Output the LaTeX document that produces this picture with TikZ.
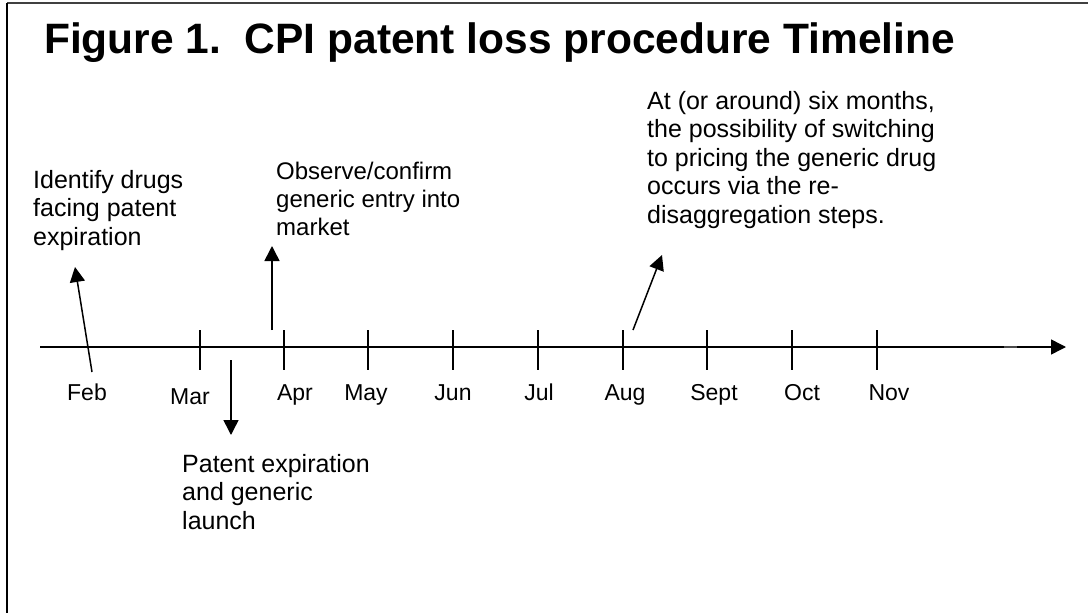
\documentclass[tikz,border=0pt]{standalone}
\usepackage{fontspec}
\setmainfont{Liberation Sans}
\usetikzlibrary{arrows.meta}
\begin{document}
\begin{tikzpicture}[x=1pt,y=-1pt,
  rule/.style={line width=1.5pt},
  pointer/.style={line width=1.5pt,-{Triangle[width=15pt,length=15pt]}},
  note/.style={font=\fontsize{25}{28.5}\selectfont, align=left, inner sep=0pt, anchor=north west},
  month/.style={font=\fontsize{23}{27}\selectfont, inner sep=0pt, anchor=base}]
\useasboundingbox (0,0) rectangle (1088,613);

% frame: top and left edges
\draw[line width=2pt, black!75] (7,3) -- (1088,3);
\draw[line width=1.5pt] (7,3) -- (7,613);

% title
\node[font=\fontsize{42.5}{48}\selectfont\bfseries, anchor=base west, inner sep=0pt] (title)
  at (44,53) {Figure 1.\ \ CPI patent loss procedure Timeline};

% time axis
\coordinate (axisstart) at (40,347);
\coordinate (axisend) at (1066,347);
\draw[pointer] (axisstart) -- (axisend);
\draw[line width=2.6pt, black!70] (1004,347) -- (1017,347);

% month ticks
\foreach \n/\x in {mar/200, apr/284, may/368, jun/453, jul/538, aug/623, sep/707, oct/792, nov/877} {
  \coordinate (t\n) at (\x,347);
  \draw[rule] (t\n) ++(0,-17) -- ++(0,40);
}

% month labels
\node[month] (lfeb) at (87,400) {Feb};
\node[month] (lmar) at (190,404) {Mar};
\node[month] (lapr) at (295,400) {Apr};
\node[month] (lmay) at (366,400) {May};
\node[month] (ljun) at (453,400) {Jun};
\node[month] (ljul) at (539,400) {Jul};
\node[month] (laug) at (625,400) {Aug};
\node[month] (lsep) at (714,400) {Sept};
\node[month] (loct) at (802,400) {Oct};
\node[month] (lnov) at (889,400) {Nov};

% annotations
\node[note] (identify) at (33,170) {Identify drugs\\facing patent\\expiration};
\node[note, font=\fontsize{24}{28}\selectfont] (observe) at (276,162) {Observe/confirm\\generic entry into\\market};
\node[note] (switching) at (647,91) {At (or around) six months,\\the possibility of switching\\to pricing the generic drug\\occurs via the re-\\disaggregation steps.};
\node[note] (expiry) at (182,454) {Patent expiration\\and generic\\launch};

% pointers from the axis to the annotations
\coordinate (p1s) at (92,372);  \coordinate (p1e) at (75,267);
\coordinate (p2s) at (231,360); \coordinate (p2e) at (231,435);
\coordinate (p3s) at (272,330); \coordinate (p3e) at (272,246);
\coordinate (p4s) at (633,330); \coordinate (p4e) at (662,255);
\draw[pointer] (p1s) -- (p1e);
\draw[pointer] (p2s) -- (p2e);
\draw[pointer] (p3s) -- (p3e);
\draw[pointer] (p4s) -- (p4e);
\end{tikzpicture}
\end{document}
